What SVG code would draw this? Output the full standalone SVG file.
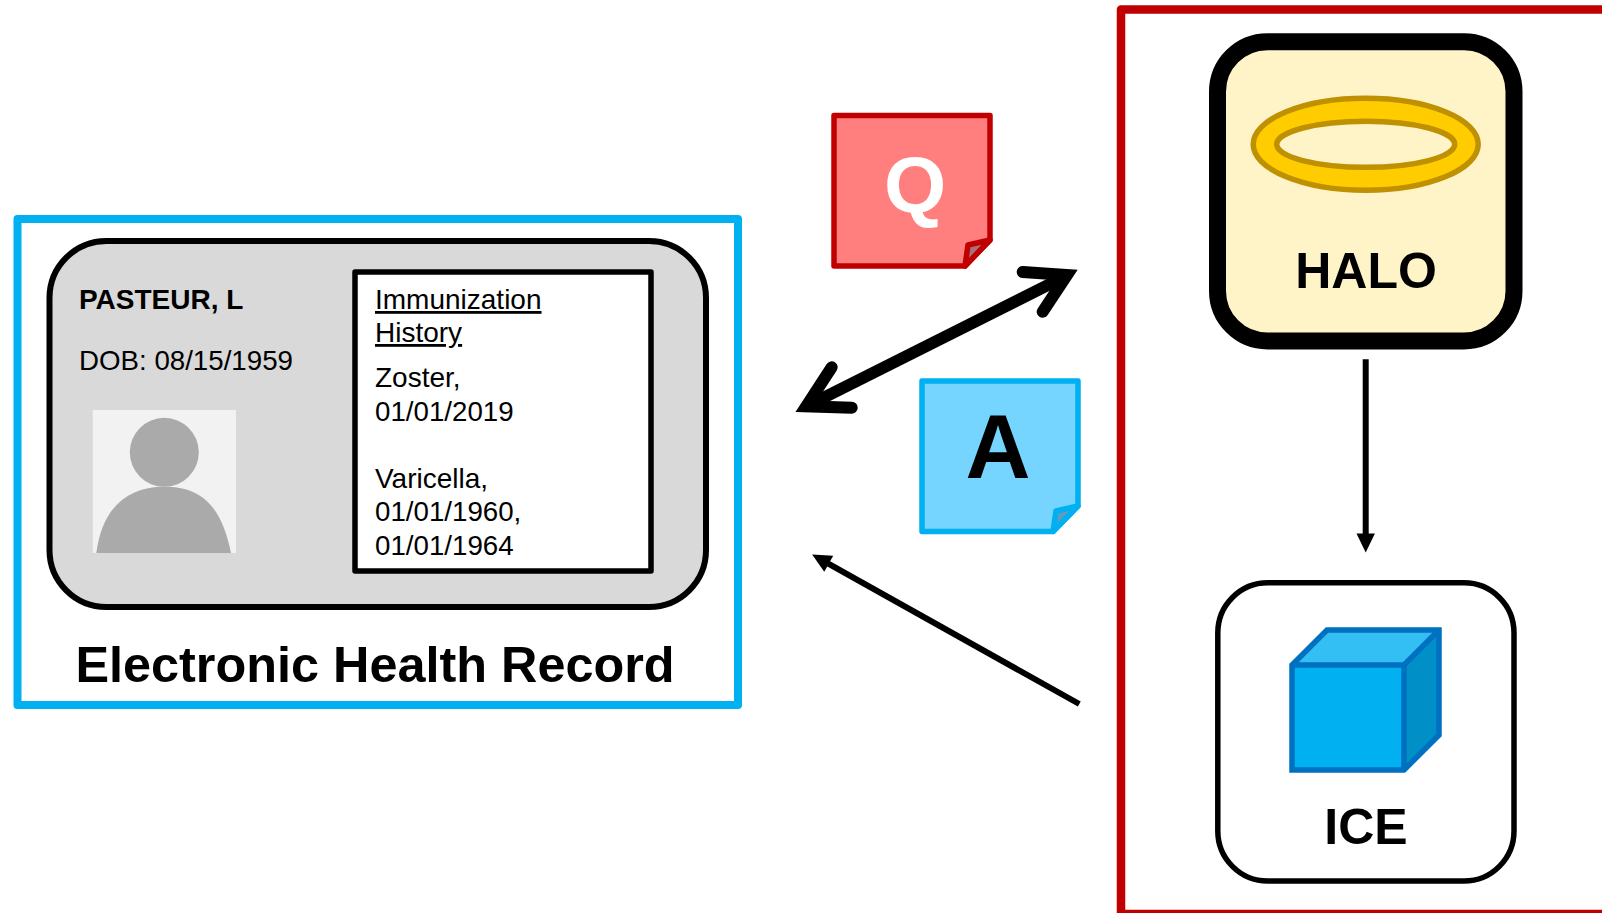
<svg xmlns="http://www.w3.org/2000/svg" width="1602" height="913" viewBox="0 0 1602 913">
<style>
text{font-family:"Liberation Sans",Arial,sans-serif;fill:#000}
.b{font-weight:bold}
.t{font-size:28px}
.d{font-size:27.7px}
.u{text-decoration:underline}
.lbl{font-size:50px;font-weight:bold;text-anchor:middle}
.note{stroke-width:5.5;stroke-linejoin:round}
.cube{stroke:#0070c0;stroke-width:5.5;stroke-linejoin:miter;fill:none}
</style>
<defs>
<marker id="tri" markerUnits="userSpaceOnUse" markerWidth="20" markerHeight="20" refX="0.5" refY="9.5" orient="auto" overflow="visible"><path d="M0 0.3L19 9.5L0 18.7z" fill="#000" stroke="none"/></marker>
</defs>
<rect width="1602" height="913" fill="#fff"/>
<g id="ehr">
<rect x="17.5" y="219" width="720.5" height="486" fill="#fff" stroke="#00b0f0" stroke-width="8" stroke-linejoin="round"/>
<rect x="49.5" y="241" width="656.5" height="366" rx="57" ry="57" fill="#d9d9d9" stroke="#000" stroke-width="6"/>
<text class="t b" x="79" y="309">PASTEUR, L</text>
<text class="d" x="79" y="370">DOB: 08/15/1959</text>
<rect x="92.7" y="410" width="143.3" height="143" fill="#f2f2f2"/>
<circle cx="164.3" cy="452.3" r="34.5" fill="#aaa"/>
<path d="M96.3 553C102 510 125 486.7 164.3 486.7C205 486.7 222 510 231 553z" fill="#aaa"/>
<rect x="355" y="272" width="296" height="299" fill="#fff" stroke="#000" stroke-width="5.5" stroke-linejoin="round"/>
<text class="t u" x="375" y="309">Immunization</text>
<text class="t u" x="375" y="342">History</text>
<text class="t" x="375" y="387">Zoster,</text>
<text class="d" x="375" y="420.5">01/01/2019</text>
<text class="t" x="375" y="487.5">Varicella,</text>
<text class="d" x="375" y="520.5">01/01/1960,</text>
<text class="d" x="375" y="554.5">01/01/1964</text>
<text class="b" x="375" y="682" font-size="50.4" text-anchor="middle">Electronic Health Record</text>
</g>
<g id="q-note">
<path class="note" d="M834 115.5H990V240L965 266H834z" fill="#ff7f7f" stroke="#c00000"/>
<path class="note" d="M990 240L968 245L965 266z" fill="#a9717a" stroke="#c00000"/>
<text class="b" x="915" y="212" font-size="80" style="fill:#fff" text-anchor="middle">Q</text>
</g>
<g id="a-note">
<path class="note" d="M922 381H1078V506L1053 531.5H922z" fill="#75d5ff" stroke="#00b0f0"/>
<path class="note" d="M1078 506L1056 511L1053 531.5z" fill="#5d9ec0" stroke="#00b0f0"/>
<text class="b" x="998" y="478" font-size="90" text-anchor="middle">A</text>
</g>
<g id="cdss-frame">
<rect x="1121" y="9.5" width="500" height="904.5" fill="none" stroke="#c00000" stroke-width="8.5" stroke-linejoin="round"/>
</g>
<g id="halo">
<rect x="1217.5" y="41.7" width="296.5" height="299.3" rx="50" ry="50" fill="#fff3c8" stroke="#000" stroke-width="17"/>
<ellipse cx="1365.7" cy="144.3" rx="112.5" ry="46" fill="#ffcc00" stroke="#bf9000" stroke-width="5.5"/>
<ellipse cx="1365.7" cy="144.3" rx="89" ry="23" fill="#fff3c8" stroke="#bf9000" stroke-width="5.5"/>
<text class="lbl" x="1366" y="288">HALO</text>
</g>
<g id="ice">
<rect x="1217.8" y="582.8" width="296.2" height="298.2" rx="50" ry="50" fill="#fff" stroke="#000" stroke-width="5.5"/>
<path d="M1292 665L1327 630H1439L1404 665z" fill="#33bff3"/>
<path d="M1404 665L1439 630V735L1404 770z" fill="#008fc6"/>
<rect x="1292" y="665" width="112" height="105" fill="#00b0f0"/>
<path class="cube" d="M1292 665H1404L1439 630M1404 665V770"/>
<path class="cube" d="M1292 665L1327 630H1439V735L1404 770H1292z"/>
<text class="lbl" x="1366" y="843.5">ICE</text>
</g>
<g id="connectors" fill="none" stroke="#000">
<g id="q-a-exchange" stroke-width="12" stroke-linecap="round" stroke-linejoin="miter" stroke-miterlimit="10">
<line x1="1064" y1="277" x2="809" y2="405"/>
<polyline points="1022.7,272 1067,275 1042.7,311.7"/>
<polyline points="831.7,367.3 806.3,406.3 851.7,407.7"/>
</g>
<line x1="1365.7" y1="359.3" x2="1365.7" y2="534" stroke-width="6" marker-end="url(#tri)"/>
<line x1="1079.3" y1="704" x2="828.3" y2="563.6" stroke-width="6" marker-end="url(#tri)"/>
</g>
</svg>
